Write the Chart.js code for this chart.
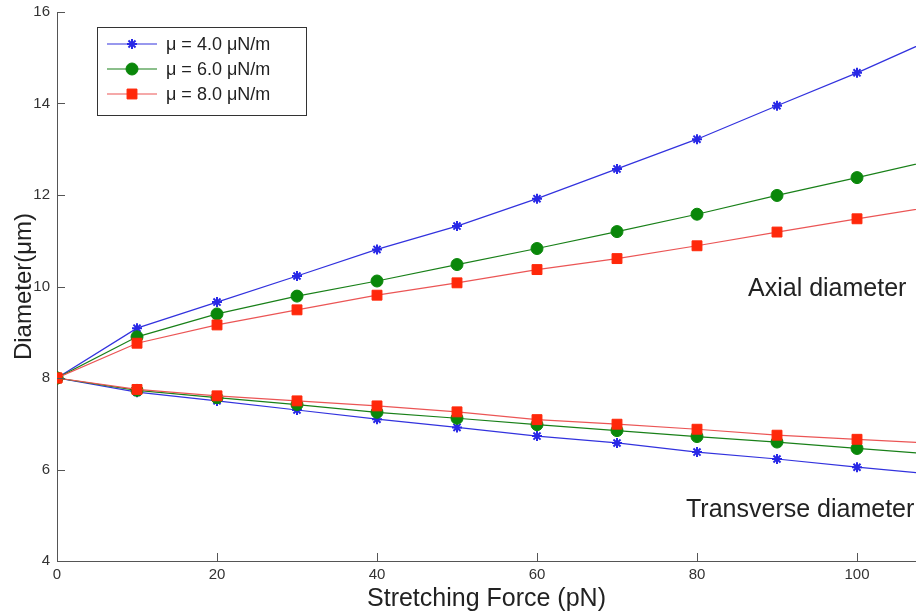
<!DOCTYPE html>
<html>
<head>
<meta charset="utf-8">
<script src="https://cdn.jsdelivr.net/npm/chart.js@4"></script>
<style>
  html, body { margin: 0; padding: 0; background: #fff; }
  #wrap { position: relative; width: 916px; height: 616px; }
</style>
</head>
<body>
<div id="wrap"><canvas id="chart" width="916" height="616"></canvas></div>
<script>
// stretching force (pN); last point lies beyond the visible axis edge
const force = [0, 10, 20, 30, 40, 50, 60, 70, 80, 90, 100, 110];

// axial diameter (um)
const axial4 = [8.0, 9.09, 9.66, 10.23, 10.81, 11.32, 11.92, 12.57, 13.22, 13.95, 14.67, 15.45];
const axial6 = [8.0, 8.90, 9.40, 9.79, 10.12, 10.48, 10.83, 11.20, 11.58, 11.99, 12.38, 12.78];
const axial8 = [8.0, 8.76, 9.16, 9.49, 9.81, 10.08, 10.37, 10.61, 10.89, 11.19, 11.48, 11.76];

// transverse diameter (um)
const trans4 = [8.0, 7.69, 7.50, 7.30, 7.10, 6.92, 6.73, 6.58, 6.38, 6.23, 6.05, 5.89];
const trans6 = [8.0, 7.73, 7.57, 7.42, 7.25, 7.12, 6.98, 6.85, 6.72, 6.60, 6.46, 6.33];
const trans8 = [8.0, 7.75, 7.61, 7.50, 7.39, 7.26, 7.09, 6.99, 6.88, 6.75, 6.66, 6.57];

const seriesLabels = ['\u03bc = 4.0 \u03bcN/m', '\u03bc = 6.0 \u03bcN/m', '\u03bc = 8.0 \u03bcN/m'];
const xTicks = [0, 20, 40, 60, 80, 100];
const yTicks = [4, 6, 8, 10, 12, 14, 16];

const FONT = 'Liberation Sans, Arial, sans-serif';

const styles = [
    { line: 'rgb(50,50,222)', fill: 'rgb(40,40,230)', pointStyle: 'star', radius: 5, border: 2 },
    { line: 'rgb(25,128,25)', fill: 'rgb(10,135,10)', pointStyle: 'circle', radius: 6, border: 1 },
    { line: 'rgb(235,85,85)', fill: 'rgb(255,40,10)', pointStyle: 'rect', radius: 7, border: 1 }
];

const toPoints = ys => force.map((x, i) => ({ x: x, y: ys[i] }));

const makeSet = (ys, k, label) => ({
    label: label,
    data: toPoints(ys),
    borderColor: styles[k].line,
    borderWidth: 1.2,
    backgroundColor: styles[k].fill,
    pointBackgroundColor: styles[k].fill,
    pointBorderColor: styles[k].fill,
    pointStyle: styles[k].pointStyle,
    pointRadius: styles[k].radius,
    pointBorderWidth: styles[k].border,
    tension: 0,
    order: 3 - k
});

const datasets = [
    makeSet(axial4, 0, seriesLabels[0]),
    makeSet(axial6, 1, seriesLabels[1]),
    makeSet(axial8, 2, seriesLabels[2]),
    makeSet(trans4, 0, ''),
    makeSet(trans6, 1, ''),
    makeSet(trans8, 2, '')
];

// inward tick marks, legend box and the two text notes
const extras = {
    id: 'extras',
    afterDraw(chart) {
        const ctx = chart.ctx;
        const xs = chart.scales.x, ys = chart.scales.y;
        const area = chart.chartArea;
        ctx.save();
        ctx.strokeStyle = '#555';
        ctx.lineWidth = 1;
        ctx.beginPath();
        xTicks.forEach(v => {
            const px = Math.round(xs.getPixelForValue(v)) + 0.5;
            ctx.moveTo(px, area.bottom);
            ctx.lineTo(px, area.bottom - 8);
        });
        yTicks.forEach(v => {
            const py = Math.round(ys.getPixelForValue(v)) + 0.5;
            ctx.moveTo(area.left, py);
            ctx.lineTo(area.left + 8, py);
        });
        ctx.stroke();

        // legend
        const bx = 97, by = 27, bw = 209, bh = 88;
        ctx.fillStyle = '#fff';
        ctx.fillRect(bx, by, bw, bh);
        ctx.strokeStyle = '#333';
        ctx.strokeRect(bx + 0.5, by + 0.5, bw, bh);
        ctx.font = '18px ' + FONT;
        ctx.textBaseline = 'middle';
        seriesLabels.forEach((lab, k) => {
            const ry = 44 + k * 25;
            const st = styles[k];
            ctx.strokeStyle = st.line;
            ctx.lineWidth = 1.2;
            ctx.beginPath();
            ctx.moveTo(107, ry);
            ctx.lineTo(157, ry);
            ctx.stroke();
            ctx.fillStyle = st.fill;
            ctx.strokeStyle = st.fill;
            ctx.lineWidth = st.border;
            Chart.helpers.drawPoint(ctx, {
                pointStyle: st.pointStyle, radius: st.radius, rotation: 0, borderWidth: st.border
            }, 132, ry);
            ctx.fillStyle = '#222';
            ctx.fillText(lab, 166, ry + 1);
        });

        // notes
        ctx.fillStyle = '#222';
        ctx.font = '25px ' + FONT;
        ctx.textBaseline = 'middle';
        ctx.fillText('Axial diameter', 748, 289);
        ctx.fillText('Transverse diameter', 686, 510);
        ctx.restore();
    }
};

new Chart(document.getElementById('chart').getContext('2d'), {
    type: 'line',
    data: { datasets: datasets },
    options: {
        responsive: false,
        animation: false,
        events: [],
        layout: { autoPadding: false, padding: { top: 12, right: 0, bottom: 0, left: 0 } },
        plugins: { legend: { display: false }, tooltip: { enabled: false } },
        scales: {
            x: {
                type: 'linear',
                min: 0,
                max: 107.375,
                afterBuildTicks: s => { s.ticks = xTicks.map(v => ({ value: v })); },
                afterFit: s => { s.height = 55; s.paddingLeft = 0; s.paddingRight = 0; },
                grid: { display: false, drawTicks: false },
                border: { display: true, color: '#555', width: 1 },
                ticks: { color: '#333', padding: 5, maxRotation: 0, font: { family: FONT, size: 15 } },
                title: {
                    display: true,
                    text: 'Stretching Force (pN)',
                    color: '#222',
                    padding: { top: 0, bottom: 2 },
                    font: { family: FONT, size: 25 }
                }
            },
            y: {
                type: 'linear',
                min: 4,
                max: 16,
                afterBuildTicks: s => { s.ticks = yTicks.map(v => ({ value: v })); },
                afterFit: s => { s.width = 57; s.paddingTop = 0; s.paddingBottom = 0; },
                grid: { display: false, drawTicks: false },
                border: { display: true, color: '#555', width: 1 },
                ticks: { color: '#333', padding: 7, font: { family: FONT, size: 15 } },
                title: {
                    display: true,
                    text: 'Diameter(\u03bcm)',
                    color: '#222',
                    padding: { top: 10, bottom: 0 },
                    font: { family: FONT, size: 24 }
                }
            }
        }
    },
    plugins: [extras]
});
</script>
</body>
</html>
